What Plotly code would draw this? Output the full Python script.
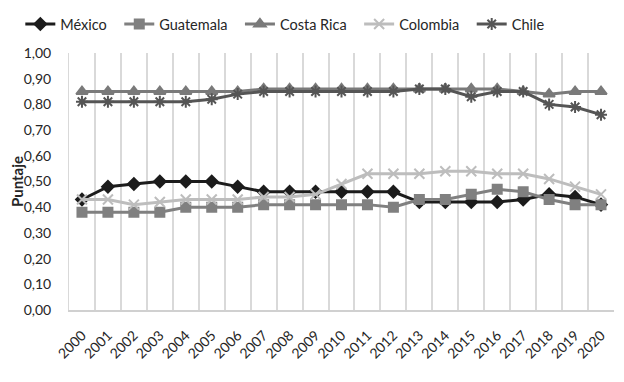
import plotly.graph_objects as go

years = [str(y) for y in range(2000, 2021)]
mexico = [0.43, 0.48, 0.49, 0.50, 0.50, 0.50, 0.48, 0.46, 0.46, 0.46, 0.46, 0.46, 0.46, 0.42, 0.42, 0.42, 0.42, 0.43, 0.45, 0.44, 0.41]
guatemala = [0.38, 0.38, 0.38, 0.38, 0.40, 0.40, 0.40, 0.41, 0.41, 0.41, 0.41, 0.41, 0.40, 0.43, 0.43, 0.45, 0.47, 0.46, 0.43, 0.41, 0.41]
costa_rica = [0.85, 0.85, 0.85, 0.85, 0.85, 0.85, 0.85, 0.86, 0.86, 0.86, 0.86, 0.86, 0.86, 0.86, 0.86, 0.86, 0.86, 0.85, 0.84, 0.85, 0.85]
colombia = [0.43, 0.43, 0.41, 0.42, 0.43, 0.43, 0.43, 0.44, 0.44, 0.45, 0.49, 0.53, 0.53, 0.53, 0.54, 0.54, 0.53, 0.53, 0.51, 0.48, 0.45]
chile = [0.81, 0.81, 0.81, 0.81, 0.81, 0.82, 0.84, 0.85, 0.85, 0.85, 0.85, 0.85, 0.85, 0.86, 0.86, 0.83, 0.85, 0.85, 0.80, 0.79, 0.76]

series = [
    ("México", mexico, "#1c1c1c", "diamond", 9),
    ("Guatemala", guatemala, "#808080", "square", 9),
    ("Costa Rica", costa_rica, "#7a7a7a", "triangle-up", 10),
    ("Colombia", colombia, "#bdbdbd", "x-thin-open", 10),
    ("Chile", chile, "#555555", "asterisk-open", 10),
]

pad = "\u00a0\u00a0"

fig = go.Figure()
for i, (name, vals, color, sym, size) in enumerate(series):
    label = name if i == len(series) - 1 else name + pad
    fig.add_trace(go.Scatter(
        x=years, y=vals, name=label, mode="lines+markers",
        line=dict(color=color, width=3),
        marker=dict(symbol=sym, size=size, color=color,
                    line=dict(color=color, width=2)),
    ))

# page body has an 8px margin, so the figure is 8px smaller and margins shifted
fig.update_layout(
    width=616, height=374,
    margin=dict(l=61, r=10, t=45, b=72),
    plot_bgcolor="white", paper_bgcolor="white",
    separators=",.",
    font=dict(family="Lato, Open Sans, sans-serif", size=14, color="#333333"),
    legend=dict(orientation="h", xref="container", yref="container",
                x=0.02, xanchor="left", y=1.0, yanchor="top",
                font=dict(size=14.5, color="#262626")),
    showlegend=True,
)
fig.update_xaxes(
    type="category", range=[-0.5, 20.5], tickson="boundaries", showgrid=True,
    gridcolor="#d9d9d9", gridwidth=1.5, tickangle=-45, showline=True,
    linecolor="#d0d0d0", linewidth=1.5, ticks="", ticklabelstandoff=10,
    tickfont=dict(size=14, color="#262626"), automargin=False,
)
fig.update_yaxes(
    range=[0, 1.0], dtick=0.1, tickformat=".2f", showgrid=False, zeroline=False,
    showline=True, linecolor="#d9d9d9", ticks="", ticklabelstandoff=14,
    title=dict(text="<b>Puntaje</b>", font=dict(size=15, color="#262626"), standoff=9),
    tickfont=dict(size=14, color="#262626"), automargin=False,
)

fig.write_html("out.html")
